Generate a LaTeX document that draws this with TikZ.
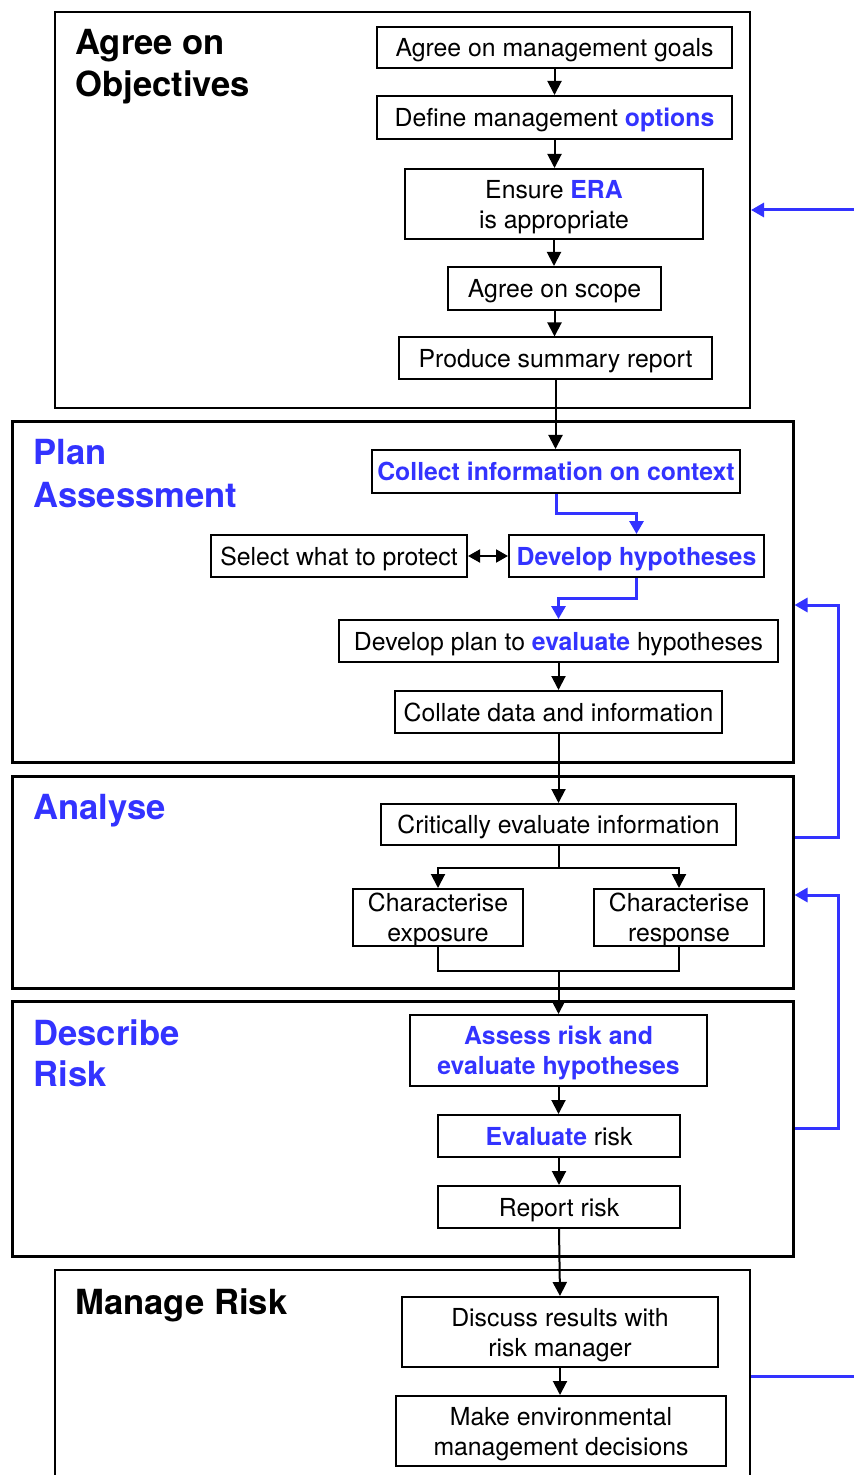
\documentclass[tikz,border=0pt]{standalone}
\usepackage{fontspec}
\setmainfont{TeX Gyre Heros}
\usetikzlibrary{arrows.meta}
\definecolor{accent}{HTML}{3333FF}
\newcommand{\boxfont}{\fontsize{12.4}{15}\selectfont}
\newcommand{\titlefont}{\fontsize{17.3}{20}\selectfont\bfseries}
\newcommand{\hb}[1]{\textcolor{accent}{\bfseries #1}}

\begin{document}
\begin{tikzpicture}[x=0.5pt,y=-0.5pt,
  box/.style={draw, line width=1pt, inner sep=0pt, align=center, text depth=0pt, font=\boxfont},
  hot/.style={text=accent, font=\boxfont\bfseries},
  sz/.style 2 args={minimum width=#1*0.5pt, minimum height=#2*0.5pt},
  frame/.style={draw, line width=1pt, inner sep=0pt},
  heavyframe/.style={draw, line width=1.5pt, inner sep=0pt},
  title/.style={anchor=base west, inner sep=0pt, font=\titlefont},
  link/.style={line width=1pt, -{Triangle[length=7pt,width=7pt]}},
  plain/.style={line width=1pt},
  fb/.style={draw=accent, line width=1.5pt},
  fbtip/.style={fb, -{Triangle[length=6.5pt,width=7pt]}},
]
\useasboundingbox (0,0) rectangle (854,1475);

% stage frames
\node[frame, sz={695}{396}] (f1) at (402.5,210) {};
\node[heavyframe, sz={781}{340}] (f2) at (402.5,592) {};
\node[heavyframe, sz={781}{212}] (f3) at (402.5,882) {};
\node[heavyframe, sz={781}{255}] (f4) at (402.5,1128.5) {};
\node[frame, sz={695}{250}] (f5) at (402.5,1395) {};

% stage titles
\node[title] (t1a) at (75,55) {Agree on};
\node[title] (t1b) at (75,97) {Objectives};
\node[title, text=accent] (t2a) at (33,465) {Plan};
\node[title, text=accent] (t2b) at (33,508) {Assessment};
\node[title, text=accent] (t3) at (33,819) {Analyse};
\node[title, text=accent] (t4a) at (33,1045) {Describe};
\node[title, text=accent] (t4b) at (33,1086) {Risk};
\node[title] (t5) at (75,1314) {Manage Risk};

% agree on objectives
\node[box, sz={355}{41}] (g1) at (554.5,47.5) {Agree on management goals};
\node[box, sz={355}{43}] (g2) at (554.5,117.5) {Define management \hb{options}};
\node[box, sz={298}{70}] (g3) at (554,204) {Ensure \hb{ERA}\\is appropriate};
\node[box, sz={213}{43}] (g4) at (554.5,288.5) {Agree on scope};
\node[box, sz={313}{42}] (g5) at (555.5,358.5) {Produce summary report};

% plan assessment
\node[box, hot, sz={368}{43}] (p1) at (556,471.5) {Collect information on context};
\node[box, sz={256}{42}] (p2) at (339,556) {Select what to protect};
\node[box, hot, sz={255}{42}] (p3) at (636.5,556) {Develop hypotheses};
\node[box, sz={439}{42}] (p4) at (558.5,641) {Develop plan to \hb{evaluate} hypotheses};
\node[box, sz={327}{42}] (p5) at (558.5,712) {Collate data and information};

% analyse
\node[box, sz={355}{41}] (a1) at (558.5,824.5) {Critically evaluate information};
\node[box, sz={170}{57}] (a2) at (438,917.5) {Characterise\\exposure};
\node[box, sz={170}{57}] (a3) at (679,917.5) {Characterise\\response};

% describe risk
\node[box, hot, sz={297}{71}] (d1) at (558.5,1050.5) {Assess risk and\\evaluate hypotheses};
\node[box, sz={242}{42}] (d2) at (559,1136) {\hb{Evaluate} risk};
\node[box, sz={242}{42}] (d3) at (559,1207) {Report risk};

% manage risk
\node[box, sz={316}{70}] (m1) at (560,1332) {Discuss results with\\risk manager};
\node[box, sz={330}{70}] (m2) at (561,1431) {Make environmental\\management decisions};

% main flow
\draw[link] (g1.south) -- (g1.south |- g2.north);
\draw[link] (g2.south) -- (g2.south |- g3.north);
\draw[link] (g3.south) -- (g3.south |- g4.north);
\draw[link] (g4.south) -- (g4.south |- g5.north);
\draw[link] (g5.south) -- (g5.south |- p1.north);
\draw[fbtip] (p1.south) -- ++(0,20) -| (p3.north);
\draw[line width=1pt, {Triangle[length=6pt,width=6.5pt]}-{Triangle[length=6pt,width=6.5pt]}] (p2.east) -- (p3.west);
\draw[fbtip] (p3.south) -- ++(0,20) -| (p4.north);
\draw[link] (p4.south) -- (p4.south |- p5.north);
\draw[link] (p5.south) -- (p5.south |- a1.north);
\draw[link] (a1.south) -- ++(0,22) -| (a2.north);
\draw[link] (a1.south) -- ++(0,22) -| (a3.north);
\coordinate (join) at (558.5,971);
\draw[plain] (a2.south) |- (join) -| (a3.south);
\draw[link] (join) -- (join |- d1.north);
\draw[link] (d1.south) -- (d1.south |- d2.north);
\draw[link] (d2.south) -- (d2.south |- d3.north);
\draw[link] (d3.south) -- (m1.north);
\draw[link] (m1.south) -- (m1.south |- m2.north);

% feedback loops
\coordinate (in1) at (854,210);
\draw[fbtip] (in1) -- (f1.east);
\coordinate (r1) at (838,837);
\coordinate (r2) at (838,605);
\draw[fbtip] (f3.east |- r1) -- (r1) -- (r2) -- (f2.east |- r2);
\coordinate (r3) at (838,1128.5);
\coordinate (r4) at (838,895);
\draw[fbtip] (f4.east) -- (r3) -- (r4) -- (f3.east |- r4);
\coordinate (out) at (854,1376);
\draw[fb] (f5.east |- out) -- (out);
\end{tikzpicture}
\end{document}
